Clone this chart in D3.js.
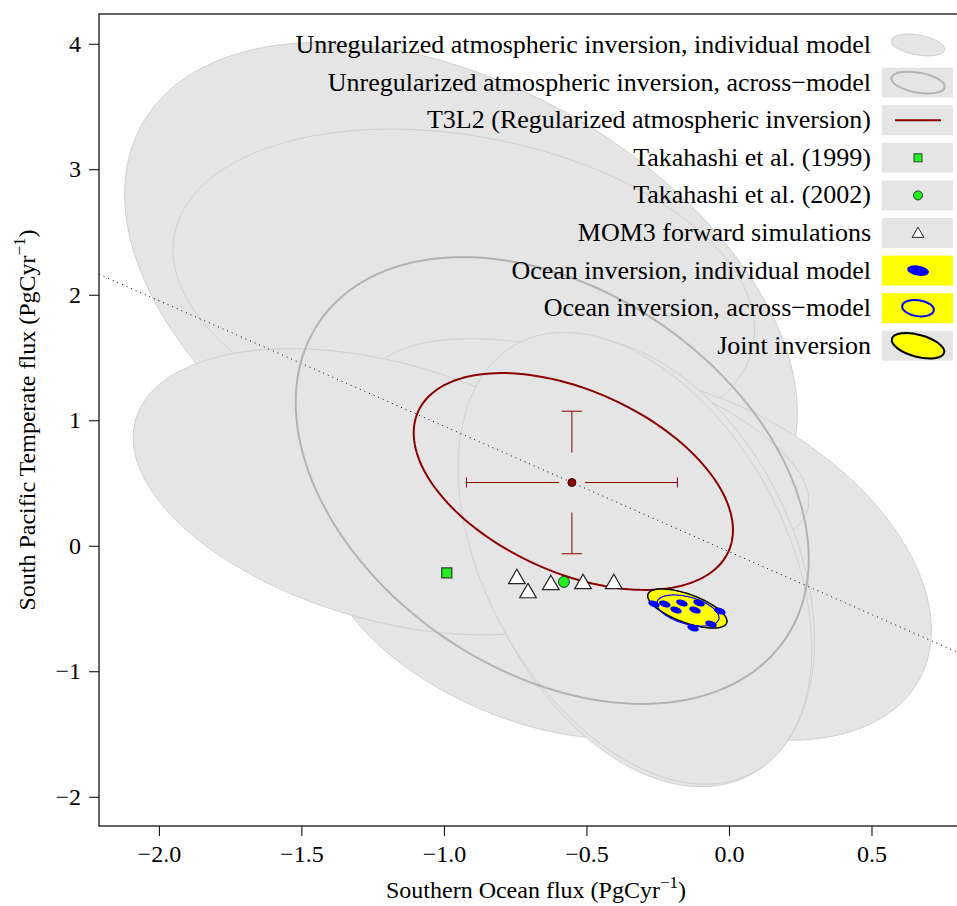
<!DOCTYPE html>
<html>
<head>
<meta charset="utf-8">
<script src="https://cdn.jsdelivr.net/npm/d3@7"></script>
<style>
  body { margin: 0; background: #fff; }
  text { font-family: "Liberation Serif", "Times New Roman", serif; }
</style>
</head>
<body>
<div id="chart"></div>
<script>
// ---- data (PgC/yr) ----
// each ellipse: [centre x, centre y, sd x, sd y, correlation], in drawing order
var atmModels = [
  [-0.94, 1.93, 1.18, 2.08, -0.42],
  [-0.93, 2.04, 1.02, 1.28, -0.25],
  [-0.745, -0.588, 0.655, 0.947, -0.50],
  [-0.12, -0.09, 0.83, 1.46, -0.40],
  [-0.49, 0.81, 0.77, 0.84, -0.54],
  [-1.20, 0.43, 0.89, 1.14, -0.38],
  [-0.31, -0.13, 0.61, 1.79, -0.35],
  [-0.33, -0.10, 0.62, 1.80, -0.40]
];
var atmAcross = [-0.62, 0.52, 0.90, 1.78, -0.35];
var t3l2Ellipse = [-0.546, 0.512, 0.56, 0.864, -0.448];
var t3l2Point = [-0.551, 0.504];
var t3l2Err = [0.37, 0.568];
var takahashi1999 = [-0.99, -0.216];
var takahashi2002 = [-0.579, -0.288];
var mom3X = [-0.744, -0.705, -0.625, -0.512, -0.404];
var mom3Y = [-0.256, -0.368, -0.304, -0.296, -0.296];
var oceanX = [-0.263, -0.225, -0.165, -0.105, -0.186, -0.119, -0.032, -0.063, -0.126];
var oceanY = [-0.464, -0.464, -0.456, -0.456, -0.512, -0.512, -0.520, -0.624, -0.656];
var oceanDot = [0.02, 0.028, -0.4];
var oceanAcross = [-0.144, -0.516, 0.109, 0.124, -0.45];
var jointEllipse = [-0.146, -0.50, 0.139, 0.156, -0.646];
var sumLineSlope = -1;   // dotted line through T3L2 estimate

var xTicks = [-2.0, -1.5, -1.0, -0.5, 0.0, 0.5];
var yTicks = [-2, -1, 0, 1, 2, 3, 4];
var legendLabels = [
  "Unregularized atmospheric inversion, individual model",
  "Unregularized atmospheric inversion, across\u2212model",
  "T3L2 (Regularized atmospheric inversion)",
  "Takahashi et al. (1999)",
  "Takahashi et al. (2002)",
  "MOM3 forward simulations",
  "Ocean inversion, individual model",
  "Ocean inversion, across\u2212model",
  "Joint inversion"
];

var W = 957, H = 906;
var margin = {left: 99, right: 0, top: 14, bottom: 80};

var svg = d3.select("#chart")
  .append("svg")
    .attr("width", W)
    .attr("height", H);

var x = d3.scaleLinear().domain([-2.21, 0.80]).range([margin.left, W]);
var y = d3.scaleLinear().domain([-2.233, 4.237]).range([H - margin.bottom, margin.top]);

svg.append("clipPath").attr("id", "plotclip")
  .append("rect")
    .attr("x", margin.left).attr("y", margin.top)
    .attr("width", W - margin.left).attr("height", H - margin.bottom - margin.top);

var plot = svg.append("g").attr("clip-path", "url(#plotclip)");

// points on a confidence ellipse in data space
function ellPts(e) {
  var pts = [];
  var n = 160;
  for (var k = 0; k < n; k++) {
    var t = 2 * Math.PI * k / n;
    pts.push([e[0] + e[2] * Math.cos(t),
              e[1] + e[3] * (e[4] * Math.cos(t) + Math.sqrt(1 - e[4] * e[4]) * Math.sin(t))]);
  }
  return pts;
}
var ellLine = d3.line()
  .x(function(d) { return x(d[0]); })
  .y(function(d) { return y(d[1]); })
  .curve(d3.curveLinearClosed);

// individual model ellipses, each filled then outlined (later ones cover earlier outlines)
plot.selectAll(".atm")
  .data(atmModels)
  .enter().append("path")
    .attr("class", "atm")
    .attr("d", function(d) { return ellLine(ellPts(d)); })
    .attr("fill", "#e5e5e5")
    .attr("stroke", "#d0d0d0")
    .attr("stroke-width", 1);

// dotted line
var xd = x.domain();
plot.append("line")
  .attr("x1", x(xd[0])).attr("y1", y(t3l2Point[1] + sumLineSlope * (xd[0] - t3l2Point[0])))
  .attr("x2", x(xd[1])).attr("y2", y(t3l2Point[1] + sumLineSlope * (xd[1] - t3l2Point[0])))
  .attr("stroke", "#000")
  .attr("stroke-width", 1)
  .attr("stroke-dasharray", "1,4");

// across-model atmospheric ellipse
plot.append("path")
  .attr("d", ellLine(ellPts(atmAcross)))
  .attr("fill", "none")
  .attr("stroke", "#b3b3b3")
  .attr("stroke-width", 2);

// T3L2 ellipse and error bars
plot.append("path")
  .attr("d", ellLine(ellPts(t3l2Ellipse)))
  .attr("fill", "none")
  .attr("stroke", "#8b0000")
  .attr("stroke-width", 2);

var cx0 = x(t3l2Point[0]), cy0 = y(t3l2Point[1]);
var xl = x(t3l2Point[0] - t3l2Err[0]), xr = x(t3l2Point[0] + t3l2Err[0]);
var yt = y(t3l2Point[1] + t3l2Err[1]), yb = y(t3l2Point[1] - t3l2Err[1]);
var eb = plot.append("g").attr("stroke", "#8b0000").attr("stroke-width", 1);
eb.append("line").attr("x1", xl).attr("x2", cx0 - 13).attr("y1", cy0).attr("y2", cy0);
eb.append("line").attr("x1", cx0 + 13).attr("x2", xr).attr("y1", cy0).attr("y2", cy0);
eb.append("line").attr("x1", xl).attr("x2", xl).attr("y1", cy0 - 5).attr("y2", cy0 + 5);
eb.append("line").attr("x1", xr).attr("x2", xr).attr("y1", cy0 - 5).attr("y2", cy0 + 5);
eb.append("line").attr("x1", cx0).attr("x2", cx0).attr("y1", yt).attr("y2", cy0 - 30);
eb.append("line").attr("x1", cx0).attr("x2", cx0).attr("y1", cy0 + 30).attr("y2", yb);
eb.append("line").attr("x1", cx0 - 10).attr("x2", cx0 + 10).attr("y1", yt).attr("y2", yt);
eb.append("line").attr("x1", cx0 - 10).attr("x2", cx0 + 10).attr("y1", yb).attr("y2", yb);
plot.append("circle")
  .attr("cx", cx0).attr("cy", cy0).attr("r", 4)
  .attr("fill", "#8b0000").attr("stroke", "#3a0000").attr("stroke-width", 1);

// Takahashi estimates
plot.append("rect")
  .attr("x", x(takahashi1999[0]) - 5).attr("y", y(takahashi1999[1]) - 5)
  .attr("width", 10).attr("height", 10)
  .attr("fill", "#22ee22").attr("stroke", "#2b4a2b").attr("stroke-width", 1.3);

// MOM3 triangles
var tri = d3.symbol().type(d3.symbolTriangle).size(120);
plot.selectAll(".mom3")
  .data(mom3X)
  .enter().append("path")
    .attr("d", tri)
    .attr("transform", function(d, i) { return "translate(" + x(d) + "," + (y(mom3Y[i]) + 1) + ")"; })
    .attr("fill", "#fff")
    .attr("stroke", "#222")
    .attr("stroke-width", 1.2);

plot.append("circle")
  .attr("cx", x(takahashi2002[0])).attr("cy", y(takahashi2002[1])).attr("r", 5.5)
  .attr("fill", "#22ee22").attr("stroke", "#1d3d1d").attr("stroke-width", 1);

// ocean / joint inversion
plot.append("path")
  .attr("d", ellLine(ellPts(jointEllipse)))
  .attr("fill", "#ffff00")
  .attr("stroke", "#000")
  .attr("stroke-width", 1.5);
plot.append("path")
  .attr("d", ellLine(ellPts(oceanAcross)))
  .attr("fill", "none")
  .attr("stroke", "#0000ff")
  .attr("stroke-width", 1.2);
plot.selectAll(".odot")
  .data(oceanX)
  .enter().append("path")
    .attr("d", function(d, i) { return ellLine(ellPts([d, oceanY[i], oceanDot[0], oceanDot[1], oceanDot[2]])); })
    .attr("fill", "#0000ff")
    .attr("stroke", "none");

// axes
var yAxis = svg.append("g")
  .attr("transform", "translate(" + margin.left + ",0)")
  .call(d3.axisLeft(y).tickValues(yTicks).tickSize(10).tickSizeOuter(0).tickPadding(8)
        .tickFormat(function(d) { return d < 0 ? "\u2212" + Math.abs(d) : d; }));
var xAxis = svg.append("g")
  .attr("transform", "translate(0," + (H - margin.bottom) + ")")
  .call(d3.axisBottom(x).tickValues(xTicks).tickSize(10).tickSizeOuter(0).tickPadding(9)
        .tickFormat(function(d) { return (d < 0 ? "\u2212" : "") + Math.abs(d).toFixed(1); }));
svg.selectAll(".tick text").style("font-size", "24px").attr("fill", "#000")
  .style("font-family", "'Liberation Serif', serif");
svg.selectAll(".domain").remove();

svg.append("rect")
  .attr("x", margin.left).attr("y", margin.top)
  .attr("width", W - margin.left + 2).attr("height", H - margin.bottom - margin.top)
  .attr("fill", "none").attr("stroke", "#000").attr("stroke-width", 1.2);

// axis titles
var xt = svg.append("text")
  .attr("x", (margin.left + W) / 2 + 8).attr("y", 898)
  .attr("text-anchor", "middle")
  .style("font-size", "24px");
xt.append("tspan").text("Southern Ocean flux (PgCyr");
xt.append("tspan").attr("dy", -10).style("font-size", "17px").text("\u22121");
xt.append("tspan").attr("dy", 10).text(")");

var yTitle = svg.append("text")
  .attr("transform", "translate(35," + ((margin.top + H - margin.bottom) / 2) + ") rotate(-90)")
  .attr("text-anchor", "middle")
  .style("font-size", "24px");
yTitle.append("tspan").text("South Pacific Temperate flux (PgCyr");
yTitle.append("tspan").attr("dy", -10).style("font-size", "17px").text("\u22121");
yTitle.append("tspan").attr("dy", 10).text(")");

// legend
var legX = 882, legW = 71, legH = 30, legTop = 30, legStep = 37.6;
var legend = svg.append("g");
legend.selectAll("text")
  .data(legendLabels)
  .enter().append("text")
    .attr("x", 871)
    .attr("y", function(d, i) { return legTop + legStep * i + legH / 2 + 8; })
    .attr("text-anchor", "end")
    .style("font-size", "26px")
    .text(function(d) { return d; });
var boxFill = ["none", "#e5e5e5", "#e5e5e5", "#e5e5e5", "#e5e5e5", "#e5e5e5", "#ffff00", "#ffff00", "#e5e5e5"];
legend.selectAll("rect")
  .data(boxFill)
  .enter().append("rect")
    .attr("x", legX)
    .attr("y", function(d, i) { return legTop + legStep * i; })
    .attr("width", legW).attr("height", legH)
    .attr("fill", function(d) { return d; });
function rowY(i) { return legTop + legStep * i + legH / 2; }
var lcx = legX + 36;
legend.append("ellipse").attr("cx", lcx).attr("cy", rowY(0)).attr("rx", 27).attr("ry", 10)
  .attr("transform", "rotate(10," + lcx + "," + rowY(0) + ")")
  .attr("fill", "#e5e5e5").attr("stroke", "#d0d0d0");
legend.append("ellipse").attr("cx", lcx).attr("cy", rowY(1)).attr("rx", 27).attr("ry", 10)
  .attr("transform", "rotate(10," + lcx + "," + rowY(1) + ")")
  .attr("fill", "none").attr("stroke", "#b3b3b3").attr("stroke-width", 2);
legend.append("line").attr("x1", lcx - 23).attr("x2", lcx + 23).attr("y1", rowY(2)).attr("y2", rowY(2))
  .attr("stroke", "#8b0000").attr("stroke-width", 2);
legend.append("rect").attr("x", lcx - 4).attr("y", rowY(3) - 4).attr("width", 8).attr("height", 8)
  .attr("fill", "#22ee22").attr("stroke", "#2b4a2b");
legend.append("circle").attr("cx", lcx).attr("cy", rowY(4)).attr("r", 4.5)
  .attr("fill", "#22ee22").attr("stroke", "#1d3d1d");
legend.append("path").attr("d", d3.symbol().type(d3.symbolTriangle).size(60))
  .attr("transform", "translate(" + lcx + "," + (rowY(5) + 1) + ")")
  .attr("fill", "#fff").attr("stroke", "#222");
legend.append("ellipse").attr("cx", lcx).attr("cy", rowY(6)).attr("rx", 11).attr("ry", 5)
  .attr("transform", "rotate(10," + lcx + "," + rowY(6) + ")")
  .attr("fill", "#0000ff");
legend.append("ellipse").attr("cx", lcx).attr("cy", rowY(7)).attr("rx", 16).attr("ry", 8)
  .attr("transform", "rotate(8," + lcx + "," + rowY(7) + ")")
  .attr("fill", "none").attr("stroke", "#0000ff").attr("stroke-width", 2);
legend.append("ellipse").attr("cx", lcx).attr("cy", rowY(8)).attr("rx", 27).attr("ry", 11)
  .attr("transform", "rotate(15," + lcx + "," + rowY(8) + ")")
  .attr("fill", "#ffff00").attr("stroke", "#000").attr("stroke-width", 2);
</script>
</body>
</html>
